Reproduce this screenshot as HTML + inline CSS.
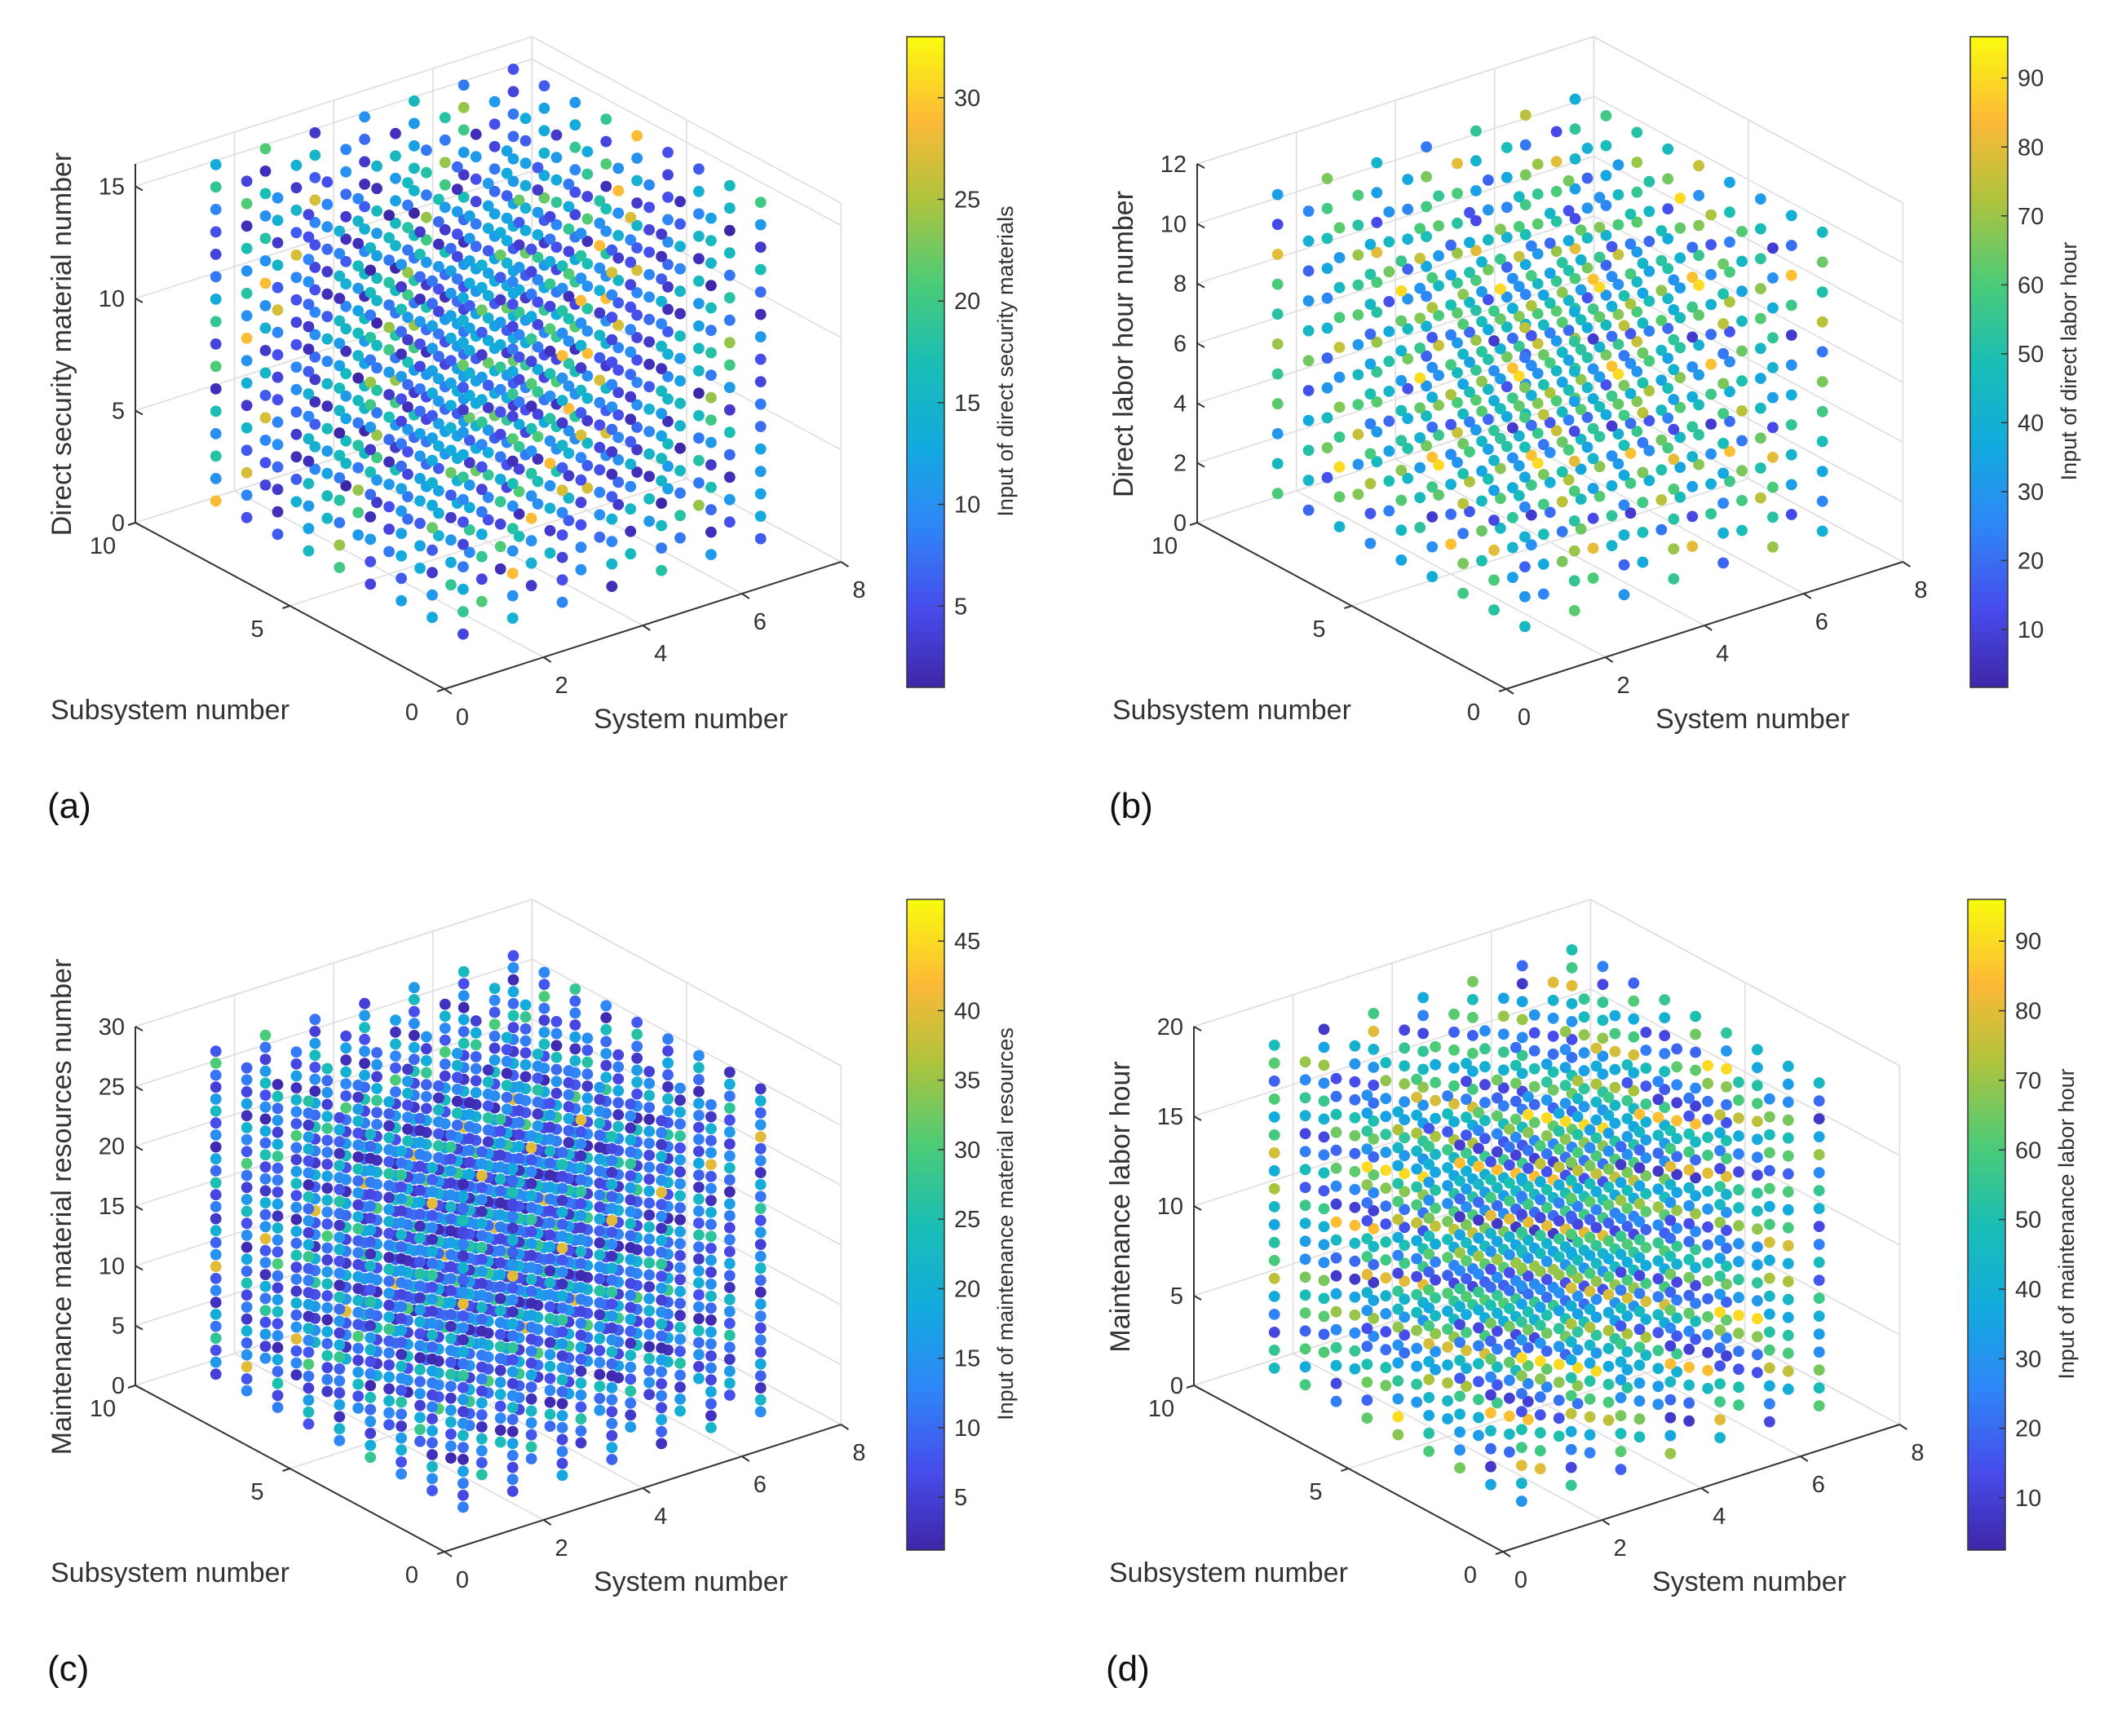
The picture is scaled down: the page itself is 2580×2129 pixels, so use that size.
<!DOCTYPE html>
<html><head><meta charset="utf-8">
<style>
html,body{margin:0;padding:0;background:#fff;}
svg{display:block;font-family:"Liberation Sans",Arial,sans-serif;}
</style></head>
<body>
<svg id="fig" width="2580" height="2129" viewBox="0 0 2580 2129" xmlns="http://www.w3.org/2000/svg">
<defs id="defs"></defs>
<rect width="2580" height="2129" fill="#fff"/>
</svg>
<script>
// ---- data (grid sizes & values read/estimated from the picture) ----
const systemNumbers = [1,2,3,4,5,6,7];
const subsystemNumbers = [1,2,3,4,5,6,7,8,9];
const levelsA = [1,2,3,4,5,6,7,8,9,10,11,12,13,14,15,16];
const levelsB = [1,2,3,4,5,6,7,8,9,10,11];
const levelsC = [1,2,3,4,5,6,7,8,9,10,11,12,13,14,15,16,17,18,19,20,21,22,23,24,25,26,27,28];
const levelsD = [1,2,3,4,5,6,7,8,9,10,11,12,13,14,15,16,17,18,19];
const valuesA = [4,14,9,2,18,11,6,13,21,3,10,16,8,5,12,19,2,15,7,11,24,4,13,9,17,6,3,12,20,8,14,5,10,27,2,16,11,7,13,4,18,9,6,15,3,12,22,8,10,5,14,1,17,11,6,13,29,4,9,16,7,12,3,19,10,5,15,8,2,13,11];
const valuesB = [45,62,30,55,18,70,40,52,25,60,36,80,48,12,58,33,66,42,22,54,74,38,50,28,64,8,46,57,35,85,44,20,61,39,68,27,53,15,47,72,32,59,41,24,63,49,90,34,56,19,67,43,29,51,76,37,60,14,45,65,31];
const valuesC = [12,6,18,9,3,22,14,8,26,11,4,16,20,7,13,2,24,10,15,5,19,28,9,12,6,17,3,21,13,8,30,11,5,16,23,7,14,2,18,10,25,6,12,4,20,9,15,40,8,13,3,19,11,27,7,16,5,14,22,10,2,17,12,6];
const valuesD = [30,55,18,70,42,12,62,35,80,25,48,8,58,38,66,20,50,75,28,45,15,60,33,85,22,52,40,10,68,36,57,26,90,44,16,63,31,72,47,19,54,39,24,65,34,78,12,50,29,59,41,21,69,37,56,14,46,61,27];
const zTicksA = [0,5,10,15], zTicksB = [0,2,4,6,8,10,12], zTicksC = [0,5,10,15,20,25,30], zTicksD = [0,5,10,15,20];
const cTicksA = [5,10,15,20,25,30], cTicksB = [10,20,30,40,50,60,70,80,90], cTicksC = [5,10,15,20,25,30,35,40,45], cTicksD = [10,20,30,40,50,60,70,80,90];
const subTicks = [0,5,10], sysTicks = [0,2,4,6,8];

const NS = "http://www.w3.org/2000/svg";
const svg = document.getElementById('fig');
const defs = document.getElementById('defs');
const PARULA = [[0,[62,38,168]],[0.12,[71,76,235]],[0.25,[46,135,247]],[0.37,[19,170,222]],[0.5,[26,190,180]],[0.62,[75,203,120]],[0.75,[175,195,60]],[0.87,[252,185,55]],[1,[249,251,14]]];
function parula(t){t=Math.max(0,Math.min(1,t));for(let i=1;i<PARULA.length;i++){if(t<=PARULA[i][0]){const a=PARULA[i-1],b=PARULA[i];const f=(t-a[0])/(b[0]-a[0]);const c=a[1].map((v,k)=>Math.round(v+(b[1][k]-v)*f));return `rgb(${c[0]},${c[1]},${c[2]})`;}}return 'rgb(249,251,14)';}
function mk(tag,attrs,parent){const e=document.createElementNS(NS,tag);for(const k in attrs)e.setAttribute(k,attrs[k]);(parent||svg).appendChild(e);return e;}

(function(){const g=mk('linearGradient',{id:'parulaGrad',x1:'0',y1:'1',x2:'0',y2:'0'},defs);PARULA.forEach(p=>mk('stop',{offset:p[0],'stop-color':`rgb(${p[1].join(',')})`},g));})();

function panel(cfg){
  const g=mk('g',{});
  
  
  const ox=cfg.ox, oy=cfg.oy, H=440, zmax=cfg.zmax;
  const P=(s,y,z)=>[ox+s*(-37.9)+y*60.8, oy+s*(-20.4)+y*(-19.5)-z*(H/zmax)];
  const grid='#dedede';
  const line=(a,b,col,w,name)=>{const l=mk('line',{x1:a[0],y1:a[1],x2:b[0],y2:b[1],stroke:col,'stroke-width':w},g);return l;};
  cfg.zTicks.concat([zmax]).forEach(z=>{line(P(10,0,z),P(10,8,z),grid,1.6,'grid-line');line(P(10,8,z),P(0,8,z),grid,1.6,'grid-line');});
  sysTicks.forEach(y=>{line(P(10,y,0),P(10,y,zmax),grid,1.6,'grid-line');line(P(0,y,0),P(10,y,0),grid,1.6,'grid-line');});
  subTicks.forEach(s=>{line(P(s,8,0),P(s,8,zmax),grid,1.6,'grid-line');line(P(s,0,0),P(s,8,0),grid,1.6,'grid-line');});
  line(P(10,0,0),P(10,0,zmax),'#333',2,'z-axis');
  line(P(0,0,0),P(10,0,0),'#333',2,'subsystem-axis');
  line(P(0,0,0),P(0,8,0),'#333',2,'system-axis');
  const txt=(x,y,s,size,anchor,name,extra)=>{const t=mk('text',Object.assign({x:x,y:y,'font-size':size,'text-anchor':anchor,fill:'#333'},extra||{}),g);t.textContent=s;return t;};
  cfg.zTicks.forEach(z=>{const p=P(10,0,z);line(p,[p[0]+9,p[1]+5],'#333',2,'z-tick');txt(p[0]-13,p[1]+10,String(z),29,'end','z-tick-label');});
  subTicks.forEach(s=>{const p=P(s,0,0);line(p,[p[0]-9,p[1]+3],'#333',2,'subsystem-tick');txt(p[0]-40,p[1]+38,String(s),29,'middle','subsystem-tick-label');});
  sysTicks.forEach(y=>{const p=P(0,y,0);line(p,[p[0]+9,p[1]+6],'#333',2,'system-tick');txt(p[0]+22,p[1]+44,String(y),29,'middle','system-tick-label');});
  txt(ox-483,oy+37,'Subsystem number',34,'start','subsystem-axis-title');
  txt(ox+302,oy+48,'System number',34,'middle','system-axis-title');
  txt(0,0,cfg.zLabel,34,'middle','z-axis-title',{transform:`translate(${ox-458},${oy-423}) rotate(-90)`});
  const pts=[];let i=0;
  cfg.levels.forEach(z=>{subsystemNumbers.forEach(s=>{systemNumbers.forEach(y=>{const v=cfg.values[i%cfg.values.length];i++;pts.push({s,y,z,v,d:-(s/10)-(y/8)+0.6*z/zmax});});});});
  pts.sort((a,b)=>a.d-b.d);
  const pg=mk('g',{},g);
  
  
  pts.forEach(p=>{const q=P(p.s,p.y,p.z);const c=mk('circle',{cx:q[0].toFixed(1),cy:q[1].toFixed(1),r:6.9,fill:parula((p.v-cfg.cmin)/(cfg.cmax-cfg.cmin))},pg);
    
    });
  const cb={x:cfg.cbx,y:oy-800,w:46,h:798};
  const r=mk('rect',{x:cb.x,y:cb.y,width:cb.w,height:cb.h,fill:'url(#parulaGrad)',stroke:'#333','stroke-width':1.5},g);
  
  
  cfg.cTicks.forEach(v=>{const yy=cb.y+cb.h-(v-cfg.cmin)/(cfg.cmax-cfg.cmin)*cb.h;line([cb.x+cb.w-8,yy],[cb.x+cb.w,yy],'#333',1.5,'colorbar-tick');txt(cb.x+cb.w+12,yy+10,String(v),29,'start','colorbar-tick-label');});
  txt(0,0,cfg.cLabel,27,'middle','colorbar-title',{transform:`translate(${cb.x+130},${cb.y+398}) rotate(-90)`});
  txt(ox-487,oy+158,cfg.tag,44,'start','panel-label',{fill:'#111'});
}
panel({name:'panel-a',ox:545,oy:845,zmax:16,zTicks:zTicksA,levels:levelsA,values:valuesA,cmin:1,cmax:33,cTicks:cTicksA,cbx:1112,zLabel:'Direct security material number',cLabel:'Input of direct security materials',tag:'(a)'});
panel({name:'panel-b',ox:1847,oy:845,zmax:12,zTicks:zTicksB,levels:levelsB,values:valuesB,cmin:1.6,cmax:96,cTicks:cTicksB,cbx:2416,zLabel:'Direct labor hour number',cLabel:'Input of direct labor hour',tag:'(b)'});
panel({name:'panel-c',ox:545,oy:1903,zmax:30,zTicks:zTicksC,levels:levelsC,values:valuesC,cmin:1.2,cmax:48,cTicks:cTicksC,cbx:1112,zLabel:'Maintenance material resources number',cLabel:'Input of maintenance material resources',tag:'(c)'});
panel({name:'panel-d',ox:1843,oy:1903,zmax:20,zTicks:zTicksD,levels:levelsD,values:valuesD,cmin:2.5,cmax:96,cTicks:cTicksD,cbx:2413,zLabel:'Maintenance labor hour',cLabel:'Input of maintenance labor hour',tag:'(d)'});
</script>
</body></html>
